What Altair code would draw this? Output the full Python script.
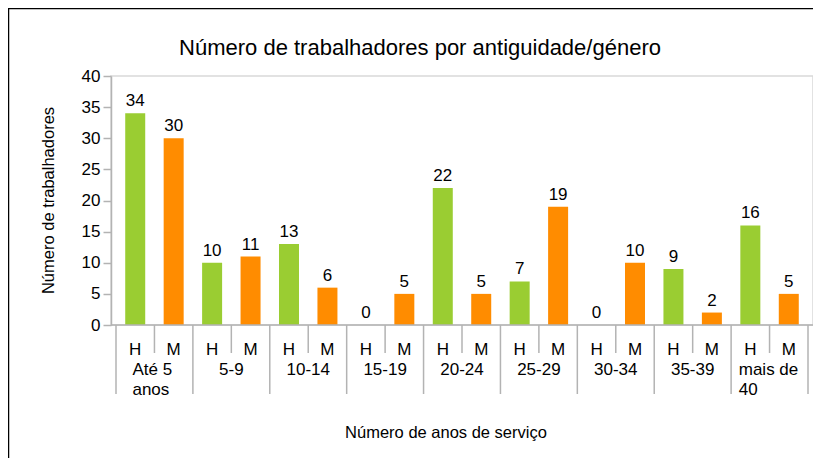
import altair as alt
import pandas as pd

# ---- data ----
titulo = "Número de trabalhadores por antiguidade/género"
titulo_y = "Número de trabalhadores"
titulo_x = "Número de anos de serviço"
grupos = ["Até 5 anos", "5-9", "10-14", "15-19", "20-24", "25-29", "30-34", "35-39", "mais de 40"]
grupo_linha1 = ["Até 5", "5-9", "10-14", "15-19", "20-24", "25-29", "30-34", "35-39", "mais de"]
grupo_linha2 = ["anos", "", "", "", "", "", "", "", "40"]
homens = [34, 10, 13, 0, 22, 7, 0, 9, 16]
mulheres = [30, 11, 6, 5, 5, 19, 10, 2, 5]
generos = ["H", "M"]
cores = ["#9ACD32", "#FF8C00"]
y_ticks = [0, 5, 10, 15, 20, 25, 30, 35, 40]

FONT = "Liberation Sans"
GRAY = "#b3b3b3"
W, H = 702, 249

rows = []
for g, nome in enumerate(grupos):
    for s, (gen, vals) in enumerate(zip(generos, [homens, mulheres])):
        rows.append({"grupo": nome, "genero": gen, "valor": vals[g], "slot": 2 * g + s})
df = pd.DataFrame(rows)
n_slots = len(df)

df_g = pd.DataFrame({"grupo": grupos, "l1": grupo_linha1, "l2": grupo_linha2,
                     "gi": list(range(len(grupos)))})
df_b = pd.DataFrame({"b": list(range(n_slots + 1))})
one = pd.DataFrame({"a": [0]})

xs = alt.Scale(domain=[0, n_slots], nice=False, zero=False)
yenc = alt.Y("valor:Q", scale=alt.Scale(domain=[0, 40], nice=False),
             axis=alt.Axis(values=y_ticks, title=None, grid=False, domainColor=GRAY,
                           tickColor=GRAY, tickSize=8, domainWidth=1.5, tickWidth=1.5,
                           labelFont=FONT, labelFontSize=17, labelColor="black",
                           labelPadding=3))

base = alt.Chart(df).transform_calculate(centro="datum.slot + 0.5")
xenc = alt.X("centro:Q", scale=xs, axis=None)

bars = base.mark_bar(width=20).encode(
    x=xenc, y=yenc,
    color=alt.Color("genero:N", scale=alt.Scale(domain=generos, range=cores), legend=None),
)
vals = base.mark_text(font=FONT, fontSize=17, color="black", baseline="alphabetic", dy=-7).encode(
    x=xenc, y=yenc, text="valor:Q"
)
sub = base.mark_text(font=FONT, fontSize=17, color="black", baseline="alphabetic").encode(
    x=xenc, y=alt.value(279), text="genero:N"
)

bx = alt.X("b:Q", scale=xs, axis=None)
ticks_short = alt.Chart(df_b).transform_filter("datum.b % 2 == 1").mark_rule(
    color=GRAY, strokeWidth=1.5).encode(x=bx, y=alt.value(H), y2=alt.value(277))
ticks_long = alt.Chart(df_b).transform_filter("datum.b % 2 == 0").mark_rule(
    color=GRAY, strokeWidth=1.5).encode(x=bx, y=alt.value(H), y2=alt.value(318))
xline = alt.Chart(one).mark_rule(color=GRAY, strokeWidth=1.5).encode(
    x=alt.value(0), x2=alt.value(W), y=alt.value(H))

gx = alt.X("gc:Q", scale=xs, axis=None)
gbase = alt.Chart(df_g).transform_calculate(gc="2 * datum.gi + 1")
glab = gbase.transform_filter("datum.l2 == ''").mark_text(
    font=FONT, fontSize=17, color="black", baseline="alphabetic").encode(
    x=gx, y=alt.value(299), text="l1:N")

multi = []
for l1, l2, nome in zip(grupo_linha1, grupo_linha2, grupos):
    if l2:
        multi.append(
            gbase.transform_filter(alt.datum.grupo == nome)
            .transform_calculate(txt="datum.l1 + '\\n' + datum.l2")
            .mark_text(font=FONT, fontSize=17, color="black", baseline="alphabetic",
                       align="left", lineBreak="\n", lineHeight=20, dx=-len(l1) * 4.4)
            .encode(x=gx, y=alt.value(299), text="txt:N")
        )

title = alt.Chart(one).mark_text(font=FONT, fontSize=22, color="black", baseline="alphabetic").encode(
    x=alt.value(309), y=alt.value(-21), text=alt.value(titulo))
ytitle = alt.Chart(one).mark_text(font=FONT, fontSize=16.5, color="black", angle=270,
                                  baseline="middle").encode(
    x=alt.value(-62), y=alt.value(H / 2), text=alt.value(titulo_y))
xtitle = alt.Chart(one).mark_text(font=FONT, fontSize=16.5, color="black", baseline="alphabetic").encode(
    x=alt.value(335), y=alt.value(362), text=alt.value(titulo_x))
border = alt.Chart(one).mark_rect(filled=False, stroke="black", strokeWidth=1.5).encode(
    x=alt.value(-102.5), x2=alt.value(900), y=alt.value(-67.5), y2=alt.value(600))

chart = alt.layer(
    border, bars, vals, ticks_short, ticks_long, xline, sub, glab, *multi, title, ytitle, xtitle
).properties(
    width=W, height=H,
    autosize=alt.AutoSizeParams(type="none"),
    padding={"left": 103, "top": 68, "right": 0, "bottom": 133},
).configure_view(stroke="#d9d9d9", strokeWidth=1.5)

chart.save("out.html", embed_options={"renderer": "svg", "actions": False})
